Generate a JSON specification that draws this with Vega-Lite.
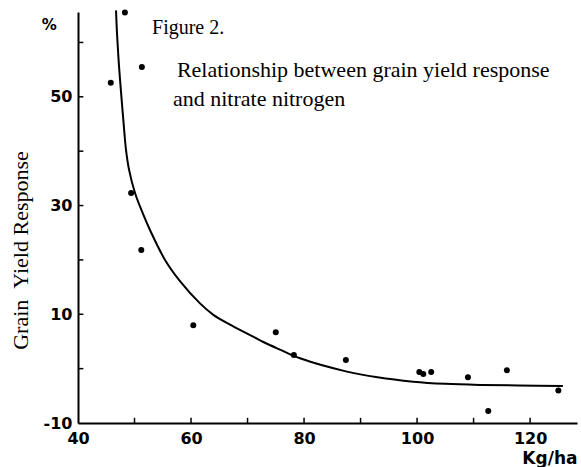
{
  "$schema": "https://vega.github.io/schema/vega-lite/v6.json",
  "width": 499,
  "height": 411,
  "autosize": {"type": "none"},
  "padding": {"left": 78, "top": 12, "right": 4, "bottom": 44},
  "background": "white",
  "config": {
    "view": {"stroke": null},
    "axis": {
      "grid": false,
      "domainColor": "black",
      "domainWidth": 2,
      "tickColor": "black",
      "tickWidth": 1.5,
      "labelColor": "black",
      "labelFont": "DejaVu Sans",
      "labelFontWeight": "bold",
      "labelFontSize": 16,
      "labelFlush": false
    }
  },
  "datasets": {
    "points": [
      {"x": 45.8, "y": 52.6},
      {"x": 48.3, "y": 65.5},
      {"x": 51.3, "y": 55.5},
      {"x": 49.4, "y": 32.3},
      {"x": 51.2, "y": 21.8},
      {"x": 60.4, "y": 8.0},
      {"x": 75.0, "y": 6.7},
      {"x": 78.2, "y": 2.5},
      {"x": 87.4, "y": 1.6},
      {"x": 100.4, "y": -0.6},
      {"x": 101.1, "y": -1.0},
      {"x": 102.5, "y": -0.6},
      {"x": 109.0, "y": -1.6},
      {"x": 115.9, "y": -0.3},
      {"x": 112.6, "y": -7.8},
      {"x": 125.0, "y": -4.0}
    ],
    "curve": [
      {"x": 46.73, "y": 65.9},
      {"x": 46.9, "y": 61.7},
      {"x": 47.26, "y": 55.6},
      {"x": 47.73, "y": 49.4},
      {"x": 48.2, "y": 43.5},
      {"x": 48.5, "y": 40.2},
      {"x": 49.03, "y": 36.6},
      {"x": 50.09, "y": 32.3},
      {"x": 51.45, "y": 28.6},
      {"x": 52.74, "y": 25.5},
      {"x": 55.4, "y": 20.0},
      {"x": 58.05, "y": 16.1},
      {"x": 61.59, "y": 12.0},
      {"x": 63.95, "y": 9.9},
      {"x": 66.9, "y": 8.1},
      {"x": 69.86, "y": 6.5},
      {"x": 72.8, "y": 4.9},
      {"x": 75.75, "y": 3.5},
      {"x": 79.29, "y": 1.9},
      {"x": 87.4, "y": -0.5},
      {"x": 93.0, "y": -1.6},
      {"x": 99.3, "y": -2.4},
      {"x": 105.0, "y": -2.8},
      {"x": 111.2, "y": -3.0},
      {"x": 118.0, "y": -3.1},
      {"x": 125.8, "y": -3.2}
    ],
    "xticks": [
      {"v": 50}, {"v": 60}, {"v": 70}, {"v": 80}, {"v": 90}, {"v": 100}, {"v": 110}, {"v": 120}
    ],
    "yticks": [
      {"v": 0}, {"v": 10}, {"v": 20}, {"v": 30}, {"v": 40}, {"v": 50}, {"v": 60}
    ],
    "fig": [
      {"x": 53.1, "y": 61.6, "label": "Figure 2."}
    ],
    "notes": [
      {"x": 57.5, "y": 53.7, "label": "Relationship between grain yield response"},
      {"x": 56.8, "y": 48.3, "label": "and nitrate nitrogen"}
    ],
    "unit": [
      {"x": 33.6, "y": 62.3, "label": "%"}
    ]
  },
  "layer": [
    {
      "data": {"name": "curve"},
      "mark": {"type": "line", "color": "black", "strokeWidth": 2, "interpolate": "catmull-rom"},
      "encoding": {
        "x": {
          "field": "x", "type": "quantitative",
          "scale": {"domain": [40, 128.3], "nice": false, "zero": false},
          "axis": {
            "values": [40, 60, 80, 100, 120],
            "ticks": false,
            "labelPadding": 7,
            "title": "Kg/ha",
            "titleFont": "DejaVu Sans",
            "titleFontWeight": "bold",
            "titleFontSize": 17,
            "titleColor": "black",
            "titleAnchor": "end",
            "titleAlign": "right",
            "titleBaseline": "alphabetic",
            "titleX": 499,
            "titleY": 40
          }
        },
        "y": {
          "field": "y", "type": "quantitative",
          "scale": {"domain": [-10, 65.6], "nice": false, "zero": false},
          "axis": {
            "values": [-10, 10, 30, 50],
            "labelExpr": "datum.value == -10 ? '-10' : datum.label",
            "ticks": false,
            "labelPadding": 6,
            "title": "Grain\u2002Yield Response",
            "titleFont": "Liberation Serif",
            "titleFontWeight": "normal",
            "titleFontSize": 22,
            "titleColor": "black",
            "titleAngle": -90,
            "titleAlign": "center",
            "titleBaseline": "alphabetic",
            "titleX": -51,
            "titleY": 238
          }
        }
      }
    },
    {
      "data": {"name": "xticks"},
      "mark": {"type": "rule", "color": "black", "strokeWidth": 1.5},
      "encoding": {
        "x": {"field": "v", "type": "quantitative"},
        "y": {"datum": -10},
        "y2": {"datum": -9.05}
      }
    },
    {
      "data": {"name": "yticks"},
      "mark": {"type": "rule", "color": "black", "strokeWidth": 1.5},
      "encoding": {
        "y": {"field": "v", "type": "quantitative"},
        "x": {"datum": 40},
        "x2": {"datum": 40.95}
      }
    },
    {
      "data": {"name": "points"},
      "mark": {"type": "circle", "color": "black", "opacity": 1, "size": 36},
      "encoding": {
        "x": {"field": "x", "type": "quantitative"},
        "y": {"field": "y", "type": "quantitative"}
      }
    },
    {
      "data": {"name": "fig"},
      "mark": {"type": "text", "font": "Liberation Serif", "fontSize": 20, "align": "left", "baseline": "alphabetic", "color": "black"},
      "encoding": {
        "x": {"field": "x", "type": "quantitative"},
        "y": {"field": "y", "type": "quantitative"},
        "text": {"field": "label"}
      }
    },
    {
      "data": {"name": "notes"},
      "mark": {"type": "text", "font": "Liberation Serif", "fontSize": 22, "align": "left", "baseline": "alphabetic", "color": "black"},
      "encoding": {
        "x": {"field": "x", "type": "quantitative"},
        "y": {"field": "y", "type": "quantitative"},
        "text": {"field": "label"}
      }
    },
    {
      "data": {"name": "unit"},
      "mark": {"type": "text", "font": "DejaVu Sans", "fontWeight": "bold", "fontSize": 15, "align": "left", "baseline": "alphabetic", "color": "black"},
      "encoding": {
        "x": {"field": "x", "type": "quantitative"},
        "y": {"field": "y", "type": "quantitative"},
        "text": {"field": "label"}
      }
    }
  ]
}
